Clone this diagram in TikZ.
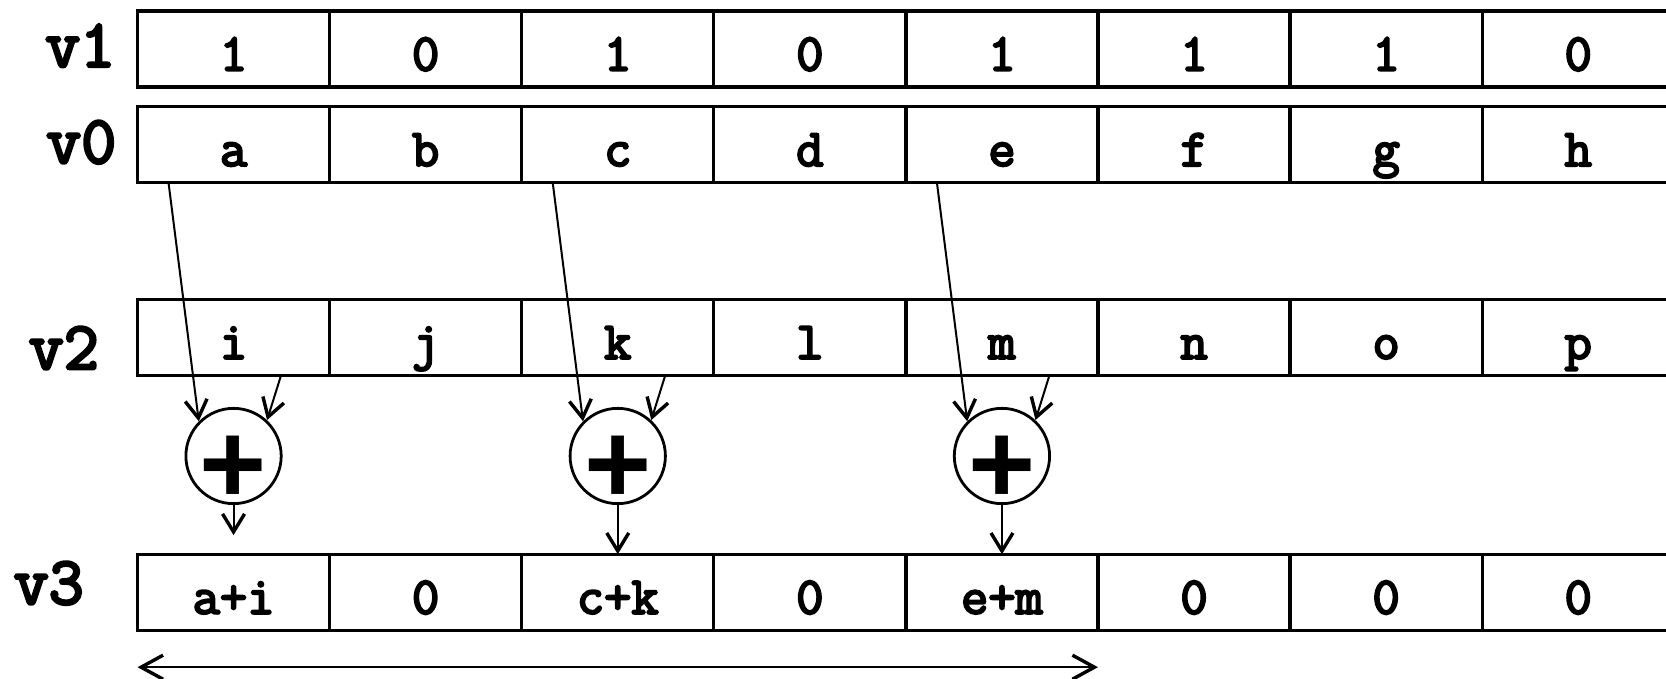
\documentclass[tikz,border=0pt]{standalone}
\usepackage{fontspec}
\newfontfamily\plusfont{Liberation Sans}
\newfontfamily\cellfont{Latin Modern Mono}[FakeBold=4]
\usetikzlibrary{arrows.meta,calc}
\begin{document}
\begin{tikzpicture}[x=1pt,y=-1pt,
  cellbox/.style={draw,line width=3.3pt,minimum width=192.1pt,minimum height=76pt,inner sep=0pt,outer sep=0pt,text height=43pt,text depth=0pt,font=\fontsize{53}{63}\selectfont\cellfont},
  vlabel/.style={anchor=base west,inner sep=0pt,font=\fontsize{68}{80}\selectfont\cellfont},
  adder/.style={draw,circle,line width=2.8pt,minimum size=95.3pt,inner sep=0pt,outer sep=1.5pt},
  plusmark/.style={anchor=base,inner sep=0pt,font=\fontsize{115}{130}\selectfont\plusfont\bfseries},
  feed/.style={line width=2pt,-{Straight Barb[length=18pt,width=22pt,line width=3.4pt]}},
  spanarrow/.style={line width=2pt,{Straight Barb[length=22pt,width=24pt,line width=3.4pt]}-{Straight Barb[length=22pt,width=24pt,line width=3.4pt]}}
]
\useasboundingbox (0,0) rectangle (1666,679);

% rows
\foreach \t [count=\i] in {1,0,1,0,1,1,1,0}
  \node[cellbox] (v1c\i) at ({233.55+(\i-1)*192.1},49) {\t};
\foreach \t [count=\i] in {a,b,c,d,e,f,g,h}
  \node[cellbox] (v0c\i) at ({233.55+(\i-1)*192.1},144.5) {\t};
\foreach \t [count=\i] in {i,j,k,l,m,n,o,p}
  \node[cellbox] (v2c\i) at ({233.55+(\i-1)*192.1},337.3) {\t};
\foreach \t [count=\i] in {a+i,0,c+k,0,e+m,0,0,0}
  \node[cellbox] (v3c\i) at ({233.55+(\i-1)*192.1},592.2) {\t};

% row labels
\node[vlabel] (l1) at (45,66.7) {v1};
\node[vlabel] (l0) at (46,163) {v0};
\node[vlabel] (l2) at (28.5,369) {v2};
\node[vlabel] (l3) at (13.5,604) {v3};

% adders
\foreach \k/\c in {1/1,2/3,3/5} {
  \node[adder] (s\k) at ($(v2c\c.center)+(0,118.7)$) {};
  \node[plusmark] (p\k) at ($(s\k.center)+(0,47)$) {+};
  \draw[feed] ($(v0c\c.south west)+(31,0)$) -- (s\k.135);
  \draw[feed] ($(v2c\c.south)+(47.5,0)$) -- (s\k.47);
}
\coordinate (o1) at ($(s1.south)+(0,30)$);
\draw[feed] (s1.south) -- (o1);
\draw[feed] (s2.south) -- (v3c3.north);
\draw[feed] (s3.south) -- (v3c5.north);

% span arrow
\coordinate (sl) at ($(v3c1.south west)+(0,37)$);
\coordinate (sr) at ($(v3c5.south east)+(0,37)$);
\draw[spanarrow] (sl) -- (sr);
\end{tikzpicture}
\end{document}
